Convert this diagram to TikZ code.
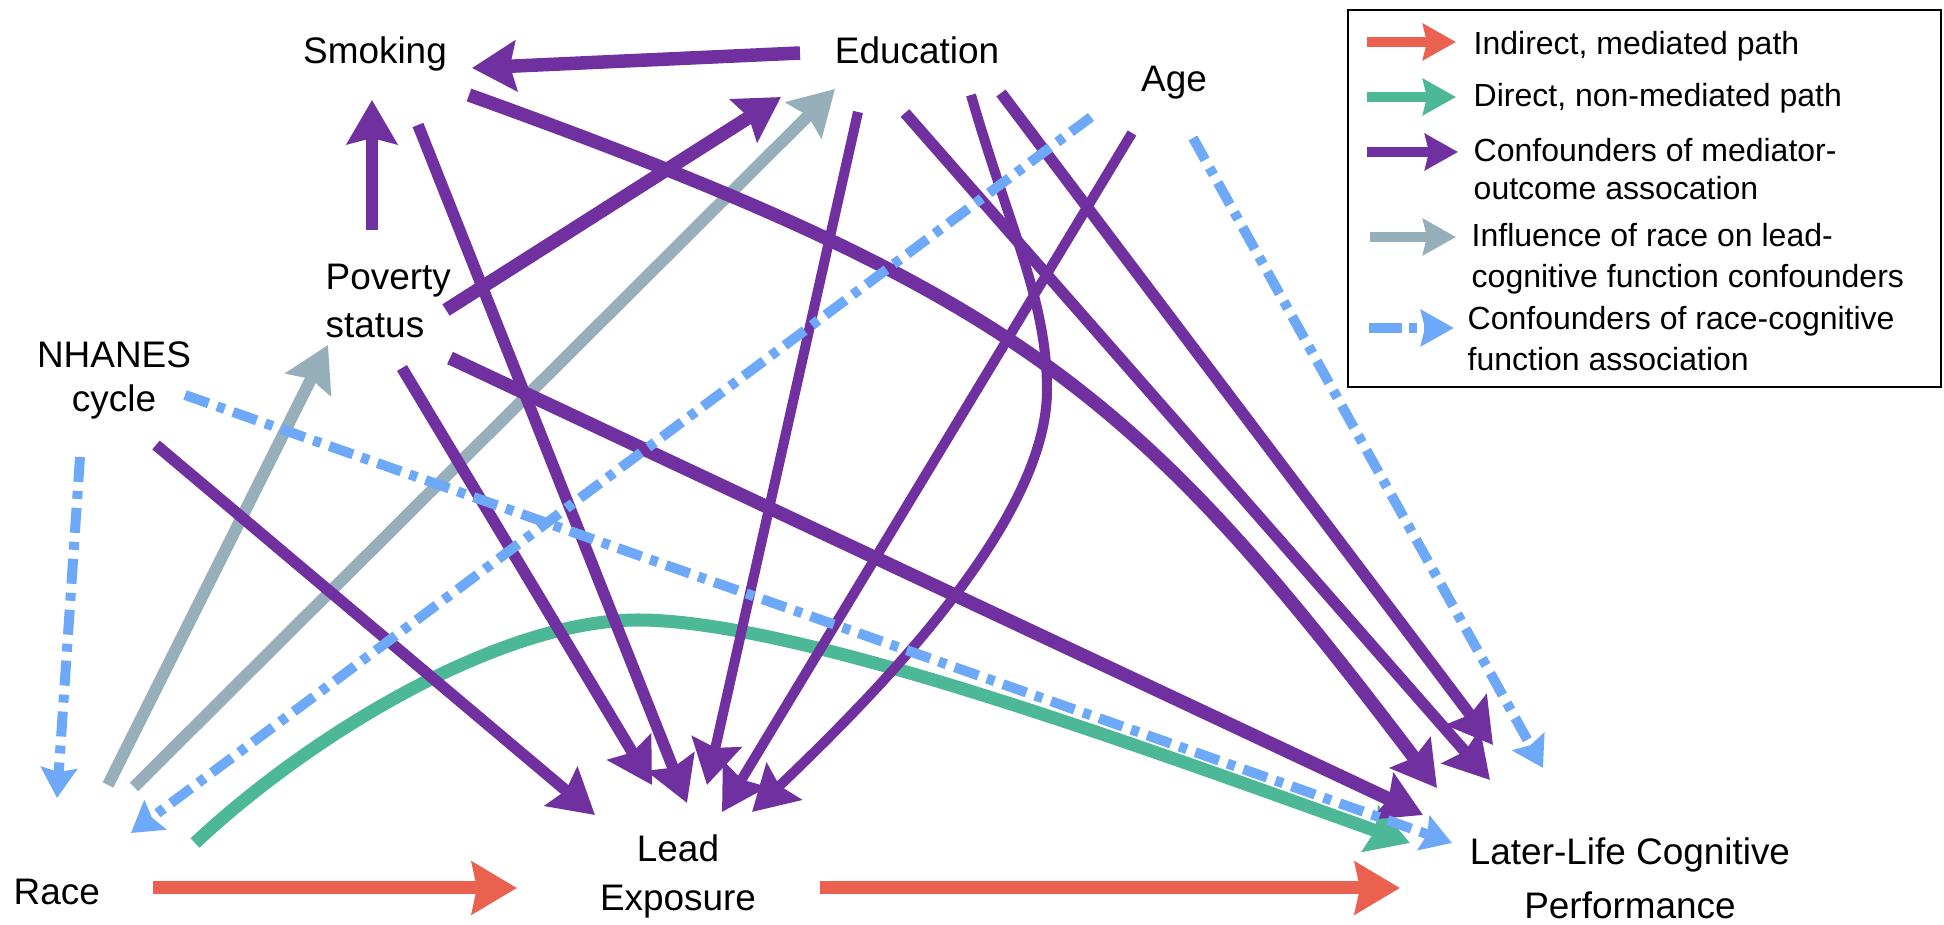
\documentclass[tikz,border=0pt]{standalone}
\usepackage{fontspec}
\setmainfont{Liberation Sans}
\usetikzlibrary{arrows.meta}
\definecolor{cred}{HTML}{EA6150}
\definecolor{cgreen}{HTML}{4DB896}
\definecolor{cpurple}{HTML}{70309F}
\definecolor{cgray}{HTML}{97AEBB}
\definecolor{cblue}{HTML}{6EA8F8}
\begin{document}
\begin{tikzpicture}[x=0.01cm,y=-0.01cm,
 lbl/.style={inner sep=0pt, font=\fontsize{10.5pt}{13.6pt}\selectfont, anchor=base},
 leg/.style={inner sep=0pt, font=\fontsize{9.1pt}{10.8pt}\selectfont, anchor=base west},
 bighead/.style={-{Stealth[length=4.4mm,width=5mm,inset=0.6mm]}},
 purp/.style={draw=cpurple, line width=1.15mm, line cap=butt, bighead},
 purpthin/.style={purp, line width=1mm},
 purpthick/.style={purp, line width=1.35mm},
 redarr/.style={draw=cred, line width=1.3mm, -{Stealth[length=4.5mm,width=5.2mm,inset=0.5mm]}},
 greenarr/.style={draw=cgreen, line width=1.3mm, -{Stealth[length=4.2mm,width=4.8mm,inset=0.5mm]}},
 grayarr/.style={draw=cgray, line width=1.2mm, bighead},
 bluearr/.style={draw=cblue, line width=1mm, dash pattern=on 2.5mm off 0.9mm on 0.8mm off 0.9mm, -{Stealth[length=3mm,width=3.6mm,inset=0.4mm]}},
 leghead/.style={-{Stealth[length=3.3mm,width=3.6mm,inset=0.4mm]}},
]
\useasboundingbox (0,0) rectangle (1944,925);
\fill[white] (0,0) rectangle (1944,925);

% ---------- nodes ----------
\node[lbl] (smoking) at (375,64) {Smoking};
\node[lbl] (education) at (917,64) {Education};
\node[lbl] (age) at (1174,92) {Age};
\node[lbl, anchor=base west, font=\fontsize{10.5pt}{13.4pt}\selectfont] (poverty) at (325,290)
  {\begin{tabular}[t]{@{}l@{}}Poverty\\status\end{tabular}};
\node[lbl, font=\fontsize{10.5pt}{12.5pt}\selectfont] (nhanes) at (114,368)
  {\begin{tabular}[t]{@{}c@{}}NHANES\\cycle\end{tabular}};
\node[lbl, anchor=base west] (race) at (13,905) {Race};
\node[lbl, font=\fontsize{10.5pt}{13.7pt}\selectfont] (lead) at (678,862)
  {\begin{tabular}[t]{@{}c@{}}Lead\\Exposure\end{tabular}};
\node[lbl, font=\fontsize{10.5pt}{15.1pt}\selectfont] (later) at (1630,865)
  {\begin{tabular}[t]{@{}c@{}}Later-Life Cognitive\\Performance\end{tabular}};

% ---------- connector end points ----------
\coordinate (g-s) at (195,843);   \coordinate (g-m) at (638,620);   \coordinate (g-e) at (1410,843);
\coordinate (y1-s) at (108,785);  \coordinate (y1-e) at (328,345);
\coordinate (y2-s) at (134,787);  \coordinate (y2-e) at (835,89);
\coordinate (p1-s) at (800,53);   \coordinate (p1-e) at (472,68);
\coordinate (p2-s) at (372,230);  \coordinate (p2-e) at (372,100);
\coordinate (p3-s) at (469,95);   \coordinate (p3-e) at (1437,788);
\coordinate (p4-s) at (418,125);  \coordinate (p4-e) at (687,803);
\coordinate (p5-s) at (446,310);  \coordinate (p5-e) at (781,97);
\coordinate (p6-s) at (402,368);  \coordinate (p6-e) at (652,785);
\coordinate (p7-s) at (450,358);  \coordinate (p7-e) at (1423,815);
\coordinate (p8-s) at (156,445);  \coordinate (p8-e) at (595,815);
\coordinate (p9-s) at (858,112);  \coordinate (p9-e) at (707,785);
\coordinate (p10-s) at (971,95);  \coordinate (p10-m) at (1047,390); \coordinate (p10-e) at (752,812);
\coordinate (p11-s) at (905,113); \coordinate (p11-e) at (1490,780);
\coordinate (p12-s) at (1001,93); \coordinate (p12-e) at (1493,745);
\coordinate (p13-s) at (1132,133);\coordinate (p13-e) at (722,812);
\coordinate (b1-s) at (80,457);   \coordinate (b1-e) at (57,798);
\coordinate (b2-s) at (185,395);  \coordinate (b2-e) at (1452,843);
\coordinate (b3-s) at (1091,117); \coordinate (b3-e) at (131,833);
\coordinate (b4-s) at (1193,138); \coordinate (b4-e) at (1543,768);
\coordinate (r1-s) at (153,888);  \coordinate (r1-e) at (517,888);
\coordinate (r2-s) at (820,888);  \coordinate (r2-e) at (1400,888);

% ---------- direct path (green) ----------
\draw[greenarr] (g-s) .. controls (310,735) and (500,620) .. (g-m)
                      .. controls (800,620) and (1150,750) .. (g-e);

% ---------- race on confounders (gray) ----------
\draw[grayarr] (y1-s) -- (y1-e);
\draw[grayarr] (y2-s) -- (y2-e);

% ---------- mediator-outcome confounders (purple) ----------
\draw[purpthick] (p1-s) -- (p1-e);
\draw[purp] (p2-s) -- (p2-e);
\draw[purpthick] (p3-s) .. controls (1019,293) and (1137,392) .. (p3-e);
\draw[purp] (p4-s) -- (p4-e);
\draw[purpthick] (p5-s) -- (p5-e);
\draw[purp] (p6-s) -- (p6-e);
\draw[purpthick] (p7-s) -- (p7-e);
\draw[purp] (p8-s) -- (p8-e);
\draw[purpthin] (p9-s) -- (p9-e);
\draw[purpthin] (p10-s) .. controls (1010,230) and (1047,300) .. (p10-m)
                        .. controls (1047,520) and (880,690) .. (p10-e);
\draw[purp] (p11-s) -- (p11-e);
\draw[purp] (p12-s) -- (p12-e);
\draw[purpthin] (p13-s) -- (p13-e);

% ---------- race-cognition confounders (blue) ----------
\draw[bluearr] (b1-s) -- (b1-e);
\draw[bluearr] (b2-s) -- (b2-e);
\draw[bluearr] (b3-s) -- (b3-e);
\draw[bluearr] (b4-s) -- (b4-e);

% ---------- mediated path (red) ----------
\draw[redarr] (r1-s) -- (r1-e);
\draw[redarr] (r2-s) -- (r2-e);

% ---------- legend ----------
\draw[line width=0.25mm] (1348,10) rectangle (1941,387);
\coordinate (l1-s) at (1367,42);  \coordinate (l1-e) at (1456,42);
\coordinate (l2-s) at (1367,97);  \coordinate (l2-e) at (1456,97);
\coordinate (l3-s) at (1367,152); \coordinate (l3-e) at (1458,152);
\coordinate (l4-s) at (1370,237); \coordinate (l4-e) at (1456,237);
\coordinate (l5-s) at (1369,328); \coordinate (l5-e) at (1454,328);
\draw[draw=cred, line width=1mm, leghead] (l1-s) -- (l1-e);
\draw[draw=cgreen, line width=1mm, leghead] (l2-s) -- (l2-e);
\draw[draw=cpurple, line width=1mm, leghead] (l3-s) -- (l3-e);
\draw[draw=cgray, line width=1mm, leghead] (l4-s) -- (l4-e);
\draw[draw=cblue, line width=1mm, dash pattern=on 3.3mm off 0.7mm on 0.8mm off 0.7mm, leghead] (l5-s) -- (l5-e);
\node[leg] (leg1) at (1473,55) {Indirect, mediated path};
\node[leg] (leg2) at (1473,107) {Direct, non-mediated path};
\node[leg] (leg3) at (1473,162) {\begin{tabular}[t]{@{}l@{}}Confounders of mediator-\\outcome assocation\end{tabular}};
\node[leg, font=\fontsize{9.1pt}{11.4pt}\selectfont] (leg4) at (1471,247) {\begin{tabular}[t]{@{}l@{}}Influence of race on lead-\\cognitive function confounders\end{tabular}};
\node[leg, font=\fontsize{9.1pt}{11.4pt}\selectfont] (leg5) at (1467,330) {\begin{tabular}[t]{@{}l@{}}Confounders of race-cognitive\\function association\end{tabular}};
\end{tikzpicture}
\end{document}
